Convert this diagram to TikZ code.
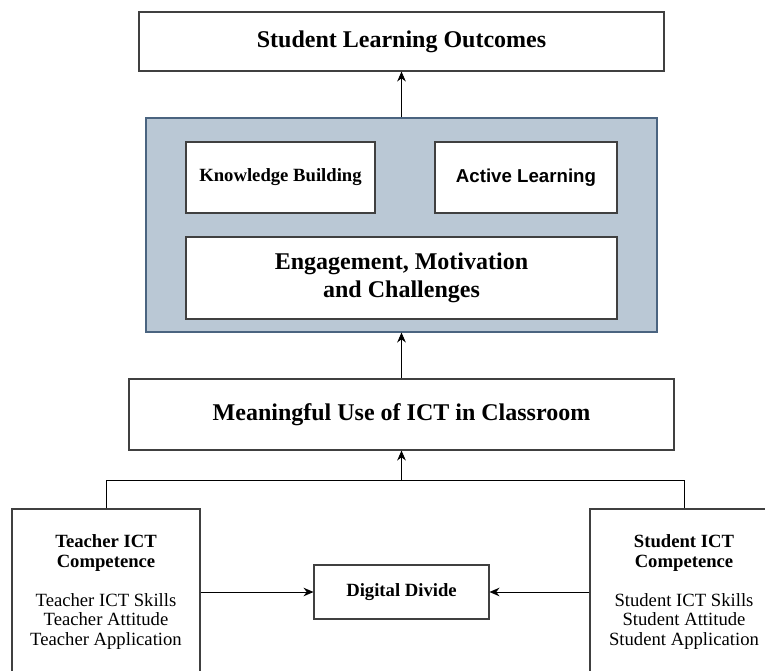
\documentclass[tikz,border=0pt]{standalone}
\usepackage{fontspec}
\setmainfont{Liberation Serif}
\newfontfamily\arialfont{Liberation Sans}
\usepackage{tikz}
\usetikzlibrary{arrows.meta}
\usetikzlibrary{calc}
\definecolor{panelfill}{RGB}{186,200,213}
\definecolor{paneldraw}{RGB}{74,100,128}
\tikzset{l/.style={font=\fontsize{18}{21}\selectfont\bfseries}}
\tikzset{m/.style={font=\fontsize{14}{14.6}\selectfont}}
\tikzset{bx/.style={draw=black!75,line width=0.8pt,fill=white,inner sep=0pt,align=center}}
\tikzset{arr/.style={-{Stealth[length=7.5pt,width=6.5pt]},line width=0.7pt}}

\begin{document}
\begin{tikzpicture}[x=0.75pt,y=-0.75pt]
            \useasboundingbox (0,0) rectangle (765,671);
            \clip (0,0) rectangle (765,671);
            \node[bx,l,minimum width=393.75pt,minimum height=44.25pt] (outc) at (401.5,41.5) {Student Learning Outcomes};
            \node[draw=paneldraw,fill=panelfill,line width=0.8pt,minimum width=383.25pt,minimum height=160.5pt] (panel) at (401.5,225) {};
            \node[bx,m,font=\fontsize{14}{14.6}\selectfont\bfseries,minimum width=141.75pt,minimum height=53.25pt] (know) at (280.5,177.5) {Knowledge Building};
            \node[bx,m,font=\fontsize{14}{14.6}\selectfont\arialfont\bfseries,minimum width=136.5pt,minimum height=53.25pt] (active) at (526,177.5) {Active Learning};
            \node[bx,l,minimum width=323.25pt,minimum height=61.5pt] (engage) at (401.5,278) {Engagement, Motivation\\and Challenges};
            \node[bx,l,minimum width=408.75pt,minimum height=53.25pt] (use) at (401.5,414.5) {Meaningful Use of ICT in Classroom};
            \node[bx,m,minimum width=141pt,minimum height=124.5pt] (teach) at (106,592) {\textbf{Teacher ICT}\\\textbf{Competence}\\[15pt]Teacher ICT Skills\\Teacher Attitude\\Teacher Application};
            \node[bx,m,minimum width=141pt,minimum height=124.5pt] (stud) at (684,592) {\textbf{Student ICT}\\\textbf{Competence}\\[15pt]Student ICT Skills\\Student Attitude\\Student Application};
            \node[bx,m,font=\fontsize{14}{14.6}\selectfont\bfseries,minimum width=131.25pt,minimum height=40.5pt] (dd) at (401.5,592) {Digital Divide};
            \coordinate (busl) at (106,480);
            \coordinate (busm) at (401.5,480);
            \coordinate (busr) at (684,480);
            \draw[arr] (panel.north) -- (outc.south);
            \draw[arr] (use.north) -- (panel.south);
            \draw[line width=0.7pt] (teach.north) -- (busl) -- (busr) -- (stud.north);
            \draw[arr] (busm) -- (use.south);
            \draw[arr] (teach.east) -- (dd.west);
            \draw[arr] (stud.west) -- (dd.east);
          \end{tikzpicture}
\end{document}
